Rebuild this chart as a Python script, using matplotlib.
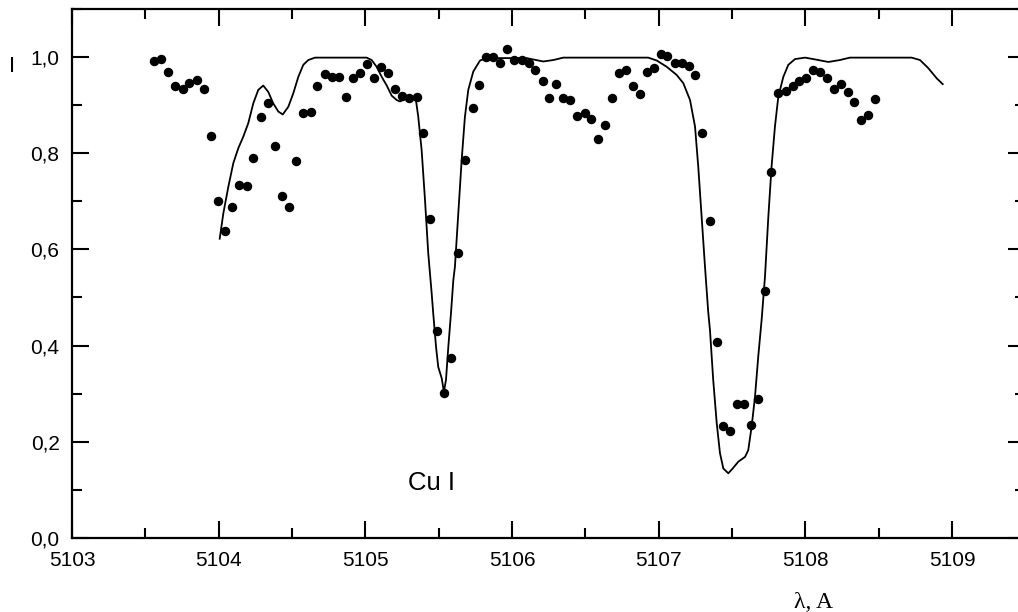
import matplotlib
matplotlib.use("Agg")
import numpy as np
import matplotlib.pyplot as plt
from matplotlib.ticker import MultipleLocator, FuncFormatter

# observed points (wavelength, intensity)
obs_x = [5103.559, 5103.605, 5103.657, 5103.704, 5103.755, 5103.800, 5103.850, 5103.900,
         5103.948, 5103.993, 5104.043, 5104.093, 5104.141, 5104.193, 5104.236, 5104.287,
         5104.336, 5104.384, 5104.432, 5104.480, 5104.529, 5104.577, 5104.627, 5104.672,
         5104.723, 5104.771, 5104.818, 5104.866, 5104.914, 5104.964, 5105.009, 5105.057,
         5105.107, 5105.157, 5105.204, 5105.252, 5105.298, 5105.350, 5105.395, 5105.441,
         5105.491, 5105.536, 5105.586, 5105.634, 5105.682, 5105.732, 5105.777, 5105.823,
         5105.872, 5105.920, 5105.966, 5106.016, 5106.066, 5106.114, 5106.159, 5106.209,
         5106.254, 5106.300, 5106.350, 5106.397, 5106.445, 5106.496, 5106.541, 5106.588,
         5106.636, 5106.684, 5106.732, 5106.779, 5106.827, 5106.873, 5106.918, 5106.968,
         5107.016, 5107.059, 5107.109, 5107.157, 5107.205, 5107.250, 5107.299, 5107.348,
         5107.396, 5107.441, 5107.486, 5107.536, 5107.584, 5107.629, 5107.675, 5107.725,
         5107.768, 5107.816, 5107.866, 5107.914, 5107.959, 5108.006, 5108.052, 5108.100,
         5108.148, 5108.193, 5108.241, 5108.289, 5108.334, 5108.381, 5108.429, 5108.477]
obs_y = [0.990, 0.995, 0.968, 0.940, 0.933, 0.945, 0.952, 0.933,
         0.836, 0.700, 0.637, 0.688, 0.734, 0.732, 0.790, 0.875,
         0.903, 0.814, 0.711, 0.687, 0.783, 0.882, 0.886, 0.940,
         0.963, 0.958, 0.957, 0.916, 0.955, 0.967, 0.985, 0.955,
         0.978, 0.967, 0.932, 0.918, 0.915, 0.917, 0.841, 0.662,
         0.431, 0.301, 0.374, 0.593, 0.786, 0.894, 0.941, 0.999,
         0.999, 0.986, 1.015, 0.993, 0.993, 0.986, 0.972, 0.950,
         0.915, 0.943, 0.914, 0.910, 0.877, 0.882, 0.870, 0.829,
         0.858, 0.915, 0.967, 0.972, 0.940, 0.922, 0.969, 0.977,
         1.006, 1.002, 0.986, 0.986, 0.981, 0.961, 0.841, 0.659,
         0.407, 0.234, 0.223, 0.279, 0.279, 0.235, 0.289, 0.514,
         0.761, 0.924, 0.929, 0.940, 0.949, 0.955, 0.973, 0.969,
         0.955, 0.932, 0.943, 0.927, 0.905, 0.869, 0.878, 0.912]

# synthetic profile
fit_x = [5104.007, 5104.032, 5104.066, 5104.100, 5104.134, 5104.168, 5104.202, 5104.236,
         5104.270, 5104.304, 5104.338, 5104.372, 5104.407, 5104.437, 5104.475, 5104.509,
         5104.543, 5104.577, 5104.611, 5104.657, 5105.009, 5105.043, 5105.077, 5105.112,
         5105.146, 5105.180, 5105.214, 5105.236, 5105.270, 5105.327, 5105.345, 5105.361,
         5105.384, 5105.407, 5105.429, 5105.452, 5105.463, 5105.482, 5105.497, 5105.521,
         5105.536, 5105.550, 5105.566, 5105.584, 5105.600, 5105.611, 5105.634, 5105.657,
         5105.679, 5105.702, 5105.736, 5105.782, 5105.827, 5106.100, 5106.213, 5106.282,
         5106.350, 5106.929, 5106.987, 5107.055, 5107.123, 5107.168, 5107.214, 5107.248,
         5107.270, 5107.293, 5107.316, 5107.338, 5107.350, 5107.372, 5107.396, 5107.418,
         5107.441, 5107.475, 5107.505, 5107.543, 5107.589, 5107.611, 5107.634, 5107.657,
         5107.679, 5107.702, 5107.725, 5107.748, 5107.770, 5107.793, 5107.816, 5107.850,
         5107.884, 5107.930, 5107.998, 5108.054, 5108.157, 5108.236, 5108.304, 5108.725,
         5108.782, 5108.839, 5108.896, 5108.937]
fit_y = [0.622, 0.675, 0.730, 0.779, 0.810, 0.834, 0.862, 0.903,
         0.931, 0.940, 0.927, 0.903, 0.886, 0.880, 0.896, 0.924,
         0.958, 0.983, 0.993, 0.998, 0.998, 0.993, 0.979, 0.958,
         0.940, 0.919, 0.910, 0.907, 0.912, 0.914, 0.910, 0.875,
         0.806, 0.702, 0.592, 0.510, 0.467, 0.398, 0.356, 0.332,
         0.304, 0.329, 0.398, 0.467, 0.536, 0.564, 0.675, 0.786,
         0.875, 0.931, 0.969, 0.992, 0.997, 0.997, 0.990, 0.993,
         0.998, 0.998, 0.992, 0.979, 0.962, 0.945, 0.910, 0.855,
         0.772, 0.668, 0.564, 0.470, 0.432, 0.329, 0.239, 0.177,
         0.145, 0.135, 0.145, 0.159, 0.169, 0.183, 0.232, 0.294,
         0.377, 0.453, 0.543, 0.668, 0.772, 0.855, 0.917, 0.958,
         0.983, 0.995, 0.998, 0.995, 0.989, 0.993, 0.998, 0.998,
         0.993, 0.976, 0.955, 0.943]

fig = plt.figure(figsize=(10.18, 6.12), dpi=100)
ax = fig.add_axes([72 / 1018, 1 - 538.3 / 612, 953.3 / 1018, 529.8 / 612])

ax.plot(fit_x, fit_y, color='black', lw=1.3)
ax.plot(obs_x, obs_y, 'o', color='black', ms=5.8, mec='black')

ax.set_xlim(5103, 5109.5)
ax.set_ylim(0, 1.1)
ax.xaxis.set_major_locator(MultipleLocator(1))
ax.xaxis.set_minor_locator(MultipleLocator(0.5))
ax.yaxis.set_major_locator(MultipleLocator(0.2))
ax.yaxis.set_minor_locator(MultipleLocator(0.1))
ax.yaxis.set_major_formatter(FuncFormatter(lambda v, p: f"{v:.1f}".replace('.', ',')))
ax.xaxis.set_major_formatter(FuncFormatter(lambda v, p: f"{v:.0f}"))

ax.tick_params(which='both', direction='in', top=True, right=True, width=1.5,
               labelsize=15, pad=9)
ax.tick_params(which='major', length=12)
ax.tick_params(which='minor', length=7)
for s in ax.spines.values():
    s.set_linewidth(1.6)
for lab in ax.get_xticklabels() + ax.get_yticklabels():
    lab.set_fontfamily('Liberation Sans')

ax.text(5105.29, 0.101, 'Cu I', fontsize=18.5, family='Liberation Sans')
fig.text(12 / 1018, 1 - 67 / 612, 'I', fontsize=16, family='Liberation Sans',
         ha='center', va='center', rotation=0)
fig.text(813 / 1018, 1 - 602 / 612, 'λ, A', fontsize=17, family='Liberation Serif',
         ha='center', va='center')

fig.savefig('out.png', dpi=100)
